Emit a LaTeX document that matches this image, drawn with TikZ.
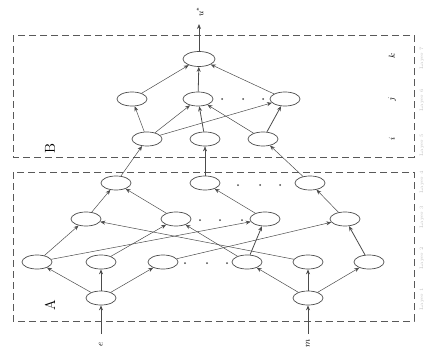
\documentclass[tikz,border=0pt]{standalone}
\usetikzlibrary{arrows.meta,shapes.geometric}
\begin{document}
\begin{tikzpicture}[x=1pt,y=-1pt,
  neuron/.style={draw=black!70,line width=0.7pt,ellipse,minimum width=30pt,minimum height=14pt,inner sep=0pt},
  conn/.style={draw=black!70,line width=0.5pt,-{Stealth[length=5pt,width=4pt]}},
  thick conn/.style={conn,line width=0.8pt},
  frame/.style={draw=black!65,line width=0.7pt,dash pattern=on 7pt off 4pt},
  lbl/.style={rotate=90,inner sep=0pt,font=\Large},
  side/.style={rotate=90,inner sep=0pt,font=\small},
  layerlbl/.style={rotate=90,inner sep=0pt,font=\tiny,text=black!25},
  dotm/.style={fill=black!70}]
\useasboundingbox (0,0) rectangle (433,351);
% frames
\draw[frame] (13,35) rectangle (414,157);
\draw[frame] (13,172) rectangle (414,321);
% nodes
\node[neuron] (iL) at (101,298) {};
\node[neuron] (iR) at (308,298) {};
\node[neuron] (a1) at (37,262) {};
\node[neuron] (a2) at (101,262) {};
\node[neuron] (a3) at (163,262) {};
\node[neuron] (a4) at (247,262) {};
\node[neuron] (a5) at (308,262) {};
\node[neuron] (a6) at (369,262) {};
\node[neuron] (b1) at (86,219) {};
\node[neuron] (b2) at (176,219) {};
\node[neuron] (b3) at (265,219) {};
\node[neuron] (b4) at (345,219) {};
\node[neuron] (c1) at (116,183) {};
\node[neuron] (c2) at (205,183) {};
\node[neuron] (c3) at (310,183) {};
\node[neuron] (d1) at (147,139) {};
\node[neuron] (d2) at (205,139) {};
\node[neuron] (d3) at (263,139) {};
\node[neuron] (e1) at (132,99) {};
\node[neuron] (e2) at (198,99) {};
\node[neuron] (e3) at (285,99) {};
\node[neuron,minimum width=32pt,minimum height=15pt] (o) at (199,59) {};
% free ends
\coordinate (inL) at (101,334);
\coordinate (inR) at (308,334);
\coordinate (outE) at (199,24);
% input arrows
\draw[thick conn] (inL) -- (iL);
\draw[thick conn] (inR) -- (iR);
% layer 1 -> 2
\draw[conn] (iL) -- (a1);
\draw[thick conn] (iL) -- (a2);
\draw[conn] (iL) -- (a3);
\draw[conn] (iR) -- (a4);
\draw[thick conn] (iR) -- (a5);
\draw[conn] (iR) -- (a6);
% layer 2 -> 3
\draw[conn] (a1) -- (b1);
\draw[conn] (a5) -- (b1);
\draw[conn] (a2) -- (b2);
\draw[conn] (a4) -- (b2);
\draw[conn] (a1) -- (b3);
\draw[thick conn] (a4) -- (b3);
\draw[conn] (a3) -- (b4);
\draw[thick conn] (a6) -- (b4);
% layer 3 -> 4
\draw[conn] (b1) -- (c1);
\draw[conn] (b2) -- (c1);
\draw[conn] (b3) -- (c2);
\draw[conn] (b4) -- (c3);
% layer 4 -> 5
\draw[conn] (c1) -- (d1);
\draw[conn] (c2) -- (d2);
\draw[conn] (c3) -- (d3);
% layer 5 -> 6
\draw[conn] (d1) -- (e1);
\draw[conn] (d1) -- (e2);
\draw[conn] (d1) -- (e3);
\draw[thick conn] (d2) -- (e2);
\draw[conn] (d3) -- (e2);
\draw[thick conn] (d3) -- (e3);
% layer 6 -> output
\draw[conn] (e1) -- (o);
\draw[thick conn] (e2) -- (o);
\draw[conn] (e3) -- (o);
\draw[thick conn] (o) -- (outE);
% dots
\foreach \x in {185,207,227} \fill[dotm] (\x,263) circle (1pt);
\foreach \x in {200,220,242} \fill[dotm] (\x,220) circle (1pt);
\foreach \x in {238,260,280} \fill[dotm] (\x,185) circle (1pt);
\foreach \x in {222,243,263} \fill[dotm] (\x,99) circle (1pt);
% labels
\node[lbl] (lA) at (50,305) {A};
\node[lbl] (lB) at (50,149) {B};
\node[side] (lk) at (392,56) {$k$};
\node[side] (lj) at (392,99) {$j$};
\node[side] (li) at (392,139) {$i$};
\node[side] (lu) at (200,12) {$u^*$};
\node[side] (le) at (101,344) {$e$};
\node[side] (lm) at (308,343) {$m$};
\node[layerlbl] (L7) at (422,58) {Layer 7};
\node[layerlbl] (L6) at (422,100) {Layer 6};
\node[layerlbl] (L5) at (422,145) {Layer 5};
\node[layerlbl] (L4) at (422,182) {Layer 4};
\node[layerlbl] (L3) at (422,217) {Layer 3};
\node[layerlbl] (L2) at (422,258) {Layer 2};
\node[layerlbl] (L1) at (422,299) {Layer 1};
\end{tikzpicture}
\end{document}
